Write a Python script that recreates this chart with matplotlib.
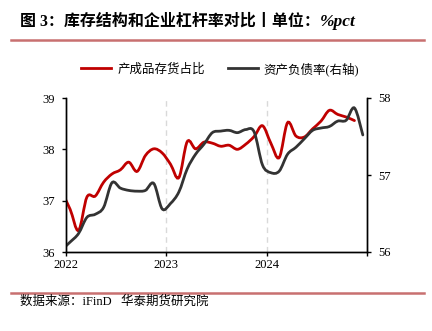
import matplotlib
matplotlib.use('Agg')
import matplotlib.pyplot as plt
from matplotlib.lines import Line2D
from matplotlib.path import Path
from matplotlib.patches import PathPatch

# monthly points, Dec 2021 .. Nov/Dec 2024, plotted at mid-month (months since 2022-01)
red_vals = [37.17, 36.83, 36.42, 37.07, 37.09, 37.36, 37.52, 37.60, 37.75, 37.57,
            37.88, 38.01, 37.93, 37.71, 37.45, 38.15, 38.01, 38.14, 38.12, 38.06,
            38.08, 38.00, 38.10, 38.25, 38.46, 38.12, 37.84, 38.52, 38.26, 38.24,
            38.40, 38.55, 38.76, 38.68, 38.63, 38.56]
black_vals = [56.03, 56.13, 56.24, 56.45, 56.49, 56.58, 56.90, 56.83, 56.80, 56.79,
              56.80, 56.89, 56.56, 56.63, 56.78, 57.08, 57.27, 57.40, 57.55, 57.57,
              57.58, 57.55, 57.59, 57.56, 57.13, 57.03, 57.05, 57.27, 57.36, 57.47,
              57.58, 57.61, 57.63, 57.70, 57.71, 57.87, 57.52]
red_x = [i - 0.5 for i in range(len(red_vals))]
black_x = [i - 0.5 for i in range(len(black_vals))]
year_labels = ['2022', '2023', '2024', '']

cjk = ['Liberation Serif', 'Noto Sans CJK SC']
serif = 'Liberation Serif'


def smooth_path(xs, ys):
    # draw the series as a smoothed line (Catmull-Rom as bezier segments),
    # like the "smoothed line" option of office charts
    verts = [(xs[0], ys[0])]
    codes = [Path.MOVETO]
    n = len(xs)
    for i in range(n - 1):
        x0, y0 = (xs[i-1], ys[i-1]) if i > 0 else (xs[i], ys[i])
        x1, y1 = xs[i], ys[i]
        x2, y2 = xs[i+1], ys[i+1]
        x3, y3 = (xs[i+2], ys[i+2]) if i + 2 < n else (x2, y2)
        c1 = (x1 + (x2 - x0) / 6, y1 + (y2 - y0) / 6)
        c2 = (x2 - (x3 - x1) / 6, y2 - (y3 - y1) / 6)
        verts += [c1, c2, (x2, y2)]
        codes += [Path.CURVE4] * 3
    return Path(verts, codes)


fig = plt.figure(figsize=(4.32, 3.31), dpi=100)
ax = fig.add_axes([66/432, 1-252/331, 301/432, 154/331])
ax2 = ax.twinx()

ax.add_patch(PathPatch(smooth_path(red_x, red_vals), fill=False,
                       edgecolor='#c00000', lw=2, capstyle='round'))
ax2.add_patch(PathPatch(smooth_path(black_x, black_vals), fill=False,
                        edgecolor='#333333', lw=2, capstyle='round'))
l1 = Line2D([], [], color='#c00000', lw=2, label='产成品存货占比')
l2 = Line2D([], [], color='#333333', lw=2, label='资产负债率(右轴)')

ax.set_xlim(0, 36)
ax.set_ylim(36, 39)
ax2.set_ylim(56, 58)
ax.set_yticks([36, 37, 38, 39])
ax2.set_yticks([56, 57, 58])
ax.set_xticks([0, 12, 24, 36])
ax.set_xticklabels(year_labels)
for x in (12, 24):
    ax.axvline(x, color='#d9d9d9', lw=1, ls=(0, (4, 3)), zorder=0)

for a in (ax, ax2):
    a.spines['top'].set_visible(False)
    for s in a.spines.values():
        s.set_linewidth(1)
    a.tick_params(length=3, width=1, labelsize=9, pad=5)
    for t in a.get_xticklabels() + a.get_yticklabels():
        t.set_family(serif)
ax.tick_params(axis='x', pad=2)

leg = fig.legend(handles=[l1, l2], loc='center', bbox_to_anchor=(0.51, 1-69/331),
                 ncol=2, frameon=False, prop={'family': cjk, 'size': 9},
                 handlelength=2.4, columnspacing=1.8, handletextpad=0.5)

t1 = fig.text(20/432, 1-22/331, '图 3：库存结构和企业杠杆率对比丨单位：', family=cjk,
              fontsize=11.5, fontweight='bold', va='center')
fig.canvas.draw()
bb = t1.get_window_extent().transformed(fig.transFigure.inverted())
fig.text(bb.x1, 1-22/331, '%pct', family=serif, fontsize=12.5, fontweight='bold',
         style='italic', va='center')

fig.add_artist(Line2D([11/432, 424/432], [1-40/331]*2, transform=fig.transFigure,
                      color='#c87070', lw=1.8))
fig.add_artist(Line2D([11/432, 424/432], [1-293/331]*2, transform=fig.transFigure,
                      color='#c87070', lw=1.8))
fig.text(20/432, 1-302/331, '数据来源：iFinD   华泰期货研究院', family=cjk,
         fontsize=9, va='center')

fig.savefig('out.png', dpi=100)
